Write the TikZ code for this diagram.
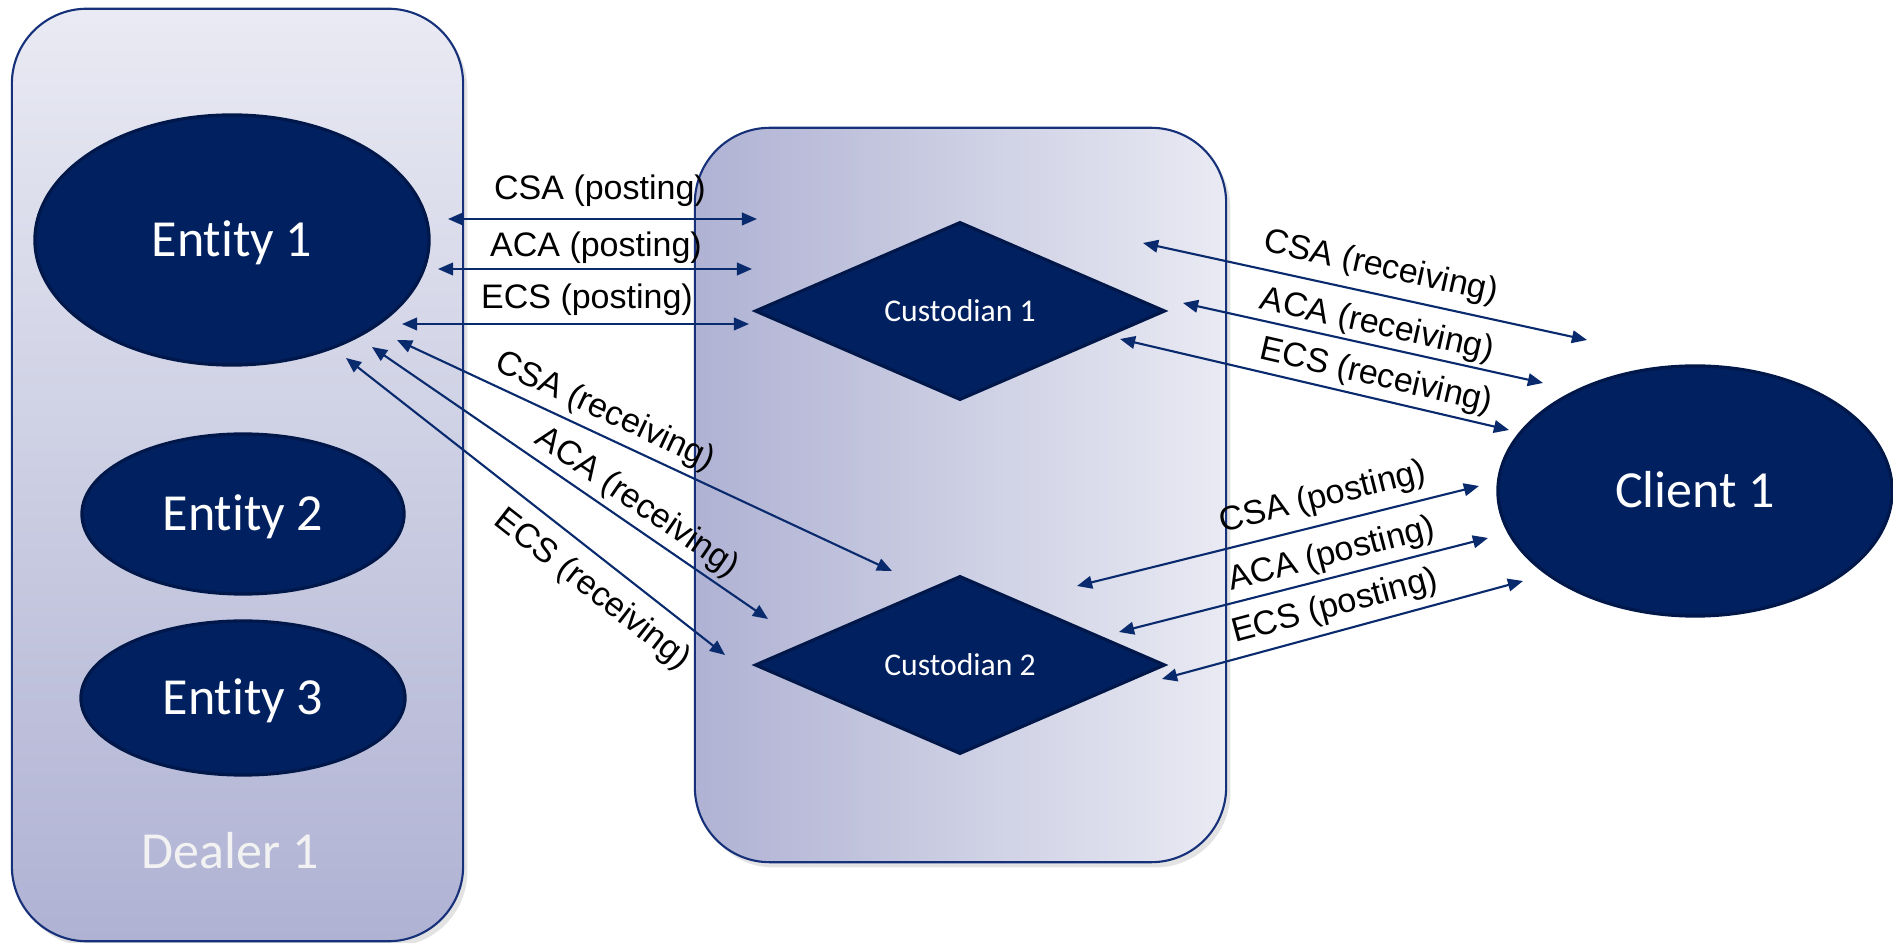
\documentclass[tikz,border=0pt]{standalone}
\usepackage{fontspec}
\newfontfamily\lblfont{Liberation Sans}
\newfontfamily\calfont[Ligatures={NoCommon,NoRare,NoContextual}]{Carlito}
\usetikzlibrary{arrows.meta,shapes.geometric,shadows}
\definecolor{navy}{HTML}{002060}
\definecolor{navyedge}{HTML}{00174A}
\definecolor{lineblue}{HTML}{0A2A6E}
\definecolor{boxedge}{HTML}{16307A}
\definecolor{paleL}{HTML}{E9EAF3}
\definecolor{paleD}{HTML}{AFB2D3}
% keeps t and i apart in "Entity"
\newcommand{\entname}[1]{Ent\kern0pt ity #1}
\begin{document}
\begin{tikzpicture}[x=0.01cm, y=-0.01cm,
  group/.style={draw=boxedge, line width=0.6pt, rounded corners=0.75cm,
    inner sep=0pt, drop shadow={shadow xshift=1.2pt, shadow yshift=-1.5pt, opacity=0.22}},
  entity/.style={ellipse, fill=navy, draw=navyedge, line width=0.9pt, inner sep=0pt,
    text=white, font=\calfont\fontsize{14.8pt}{16pt}\selectfont,
    text height=9.4pt, text depth=0pt},
  custodian/.style={diamond, fill=navy, draw=navyedge, line width=0.9pt, inner sep=0pt,
    shape aspect=2.3, minimum width=4.1cm, minimum height=1.78cm,
    text=white, font=\calfont\fontsize{9pt}{10pt}\selectfont,
    text height=5.8pt, text depth=0pt},
  link/.style={draw=lineblue, line width=0.6pt,
    arrows={Triangle[length=4.3pt,width=3.6pt]-Triangle[length=4.3pt,width=3.6pt]}},
  lab/.style={font=\lblfont\fontsize{9.67pt}{11pt}\selectfont, inner sep=0pt, text=black}]

\useasboundingbox (0,0) rectangle (1893,943);

% Grouping boxes
\node[group, top color=paleL, bottom color=paleD, minimum width=4.51cm, minimum height=9.32cm]
  (dealer) at (237.5,475) {};
\node[group, left color=paleD, right color=paleL, minimum width=5.31cm, minimum height=7.34cm]
  (custbox) at (960.5,495) {};

% Dealer entities
\node[entity, minimum width=3.94cm, minimum height=2.50cm] (e1) at (232,240) {\entname{1}};
\node[entity, minimum width=3.22cm, minimum height=1.60cm] (e2) at (243,514) {\entname{2}};
\node[entity, minimum width=3.24cm, minimum height=1.54cm] (e3) at (243,698) {\entname{3}};
\node[font=\calfont\fontsize{14.8pt}{16pt}\selectfont, text=white!95!black, anchor=base]
  (dealerlbl) at (230,868) {Dealer 1};

% Custodians and client
\node[custodian] (c1) at (960,311) {Custodian 1};
\node[custodian] (c2) at (960,665) {Custodian 2};
\node[entity, minimum width=3.94cm, minimum height=2.50cm] (cl) at (1695,491) {Client 1};

% Arrow end points
\coordinate (pl1a) at (448,219); \coordinate (pl1b) at (757,219);
\coordinate (pl2a) at (438,269); \coordinate (pl2b) at (752,269);
\coordinate (pl3a) at (402,324); \coordinate (pl3b) at (749,324);
\coordinate (rl1a) at (397,340); \coordinate (rl1b) at (892,571);
\coordinate (rl2a) at (372,347); \coordinate (rl2b) at (768,619);
\coordinate (rl3a) at (346,358); \coordinate (rl3b) at (725,655);
\coordinate (rr1a) at (1143,243); \coordinate (rr1b) at (1587,340);
\coordinate (rr2a) at (1183,303); \coordinate (rr2b) at (1543,383);
\coordinate (rr3a) at (1120,339); \coordinate (rr3b) at (1509,430);
\coordinate (pr1a) at (1077,586); \coordinate (pr1b) at (1479,486);
\coordinate (pr2a) at (1119,632); \coordinate (pr2b) at (1488,538);
\coordinate (pr3a) at (1162,679); \coordinate (pr3b) at (1523,581);

% Dealer <-> Custodian 1 (posting)
\draw[link] (pl1a) -- (pl1b);
\draw[link] (pl2a) -- (pl2b);
\draw[link] (pl3a) -- (pl3b);
\node[lab, anchor=base] (tpl1) at (600,200) {CSA (posting)};
\node[lab, anchor=base] (tpl2) at (596,257) {ACA (posting)};
\node[lab, anchor=base] (tpl3) at (587,309) {ECS (posting)};

% Dealer <-> Custodian 2 (receiving)
\draw[link] (rl1a) -- (rl1b);
\draw[link] (rl2a) -- (rl2b);
\draw[link] (rl3a) -- (rl3b);
\node[lab, rotate=-25] (trl1) at (605,412) {CSA (receiving)};
\node[lab, rotate=-34.5] (trl2) at (637,503) {ACA (receiving)};
\node[lab, rotate=-38] (trl3) at (592,590) {ECS (receiving)};

% Custodian 1 <-> Client (receiving)
\draw[link] (rr1a) -- (rr1b);
\draw[link] (rr2a) -- (rr2b);
\draw[link] (rr3a) -- (rr3b);
\node[lab, rotate=-12.5] (trr1) at (1381,268) {CSA (receiving)};
\node[lab, rotate=-12.5] (trr2) at (1377,326) {ACA (receiving)};
\node[lab, rotate=-13] (trr3) at (1376,377) {ECS (receiving)};

% Custodian 2 <-> Client (posting)
\draw[link] (pr1a) -- (pr1b);
\draw[link] (pr2a) -- (pr2b);
\draw[link] (pr3a) -- (pr3b);
\node[lab, rotate=14] (tpr1) at (1323,498) {CSA (posting)};
\node[lab, rotate=14.5] (tpr2) at (1332,555) {ACA (posting)};
\node[lab, rotate=15] (tpr3) at (1335,607) {ECS (posting)};

\end{tikzpicture}
\end{document}
